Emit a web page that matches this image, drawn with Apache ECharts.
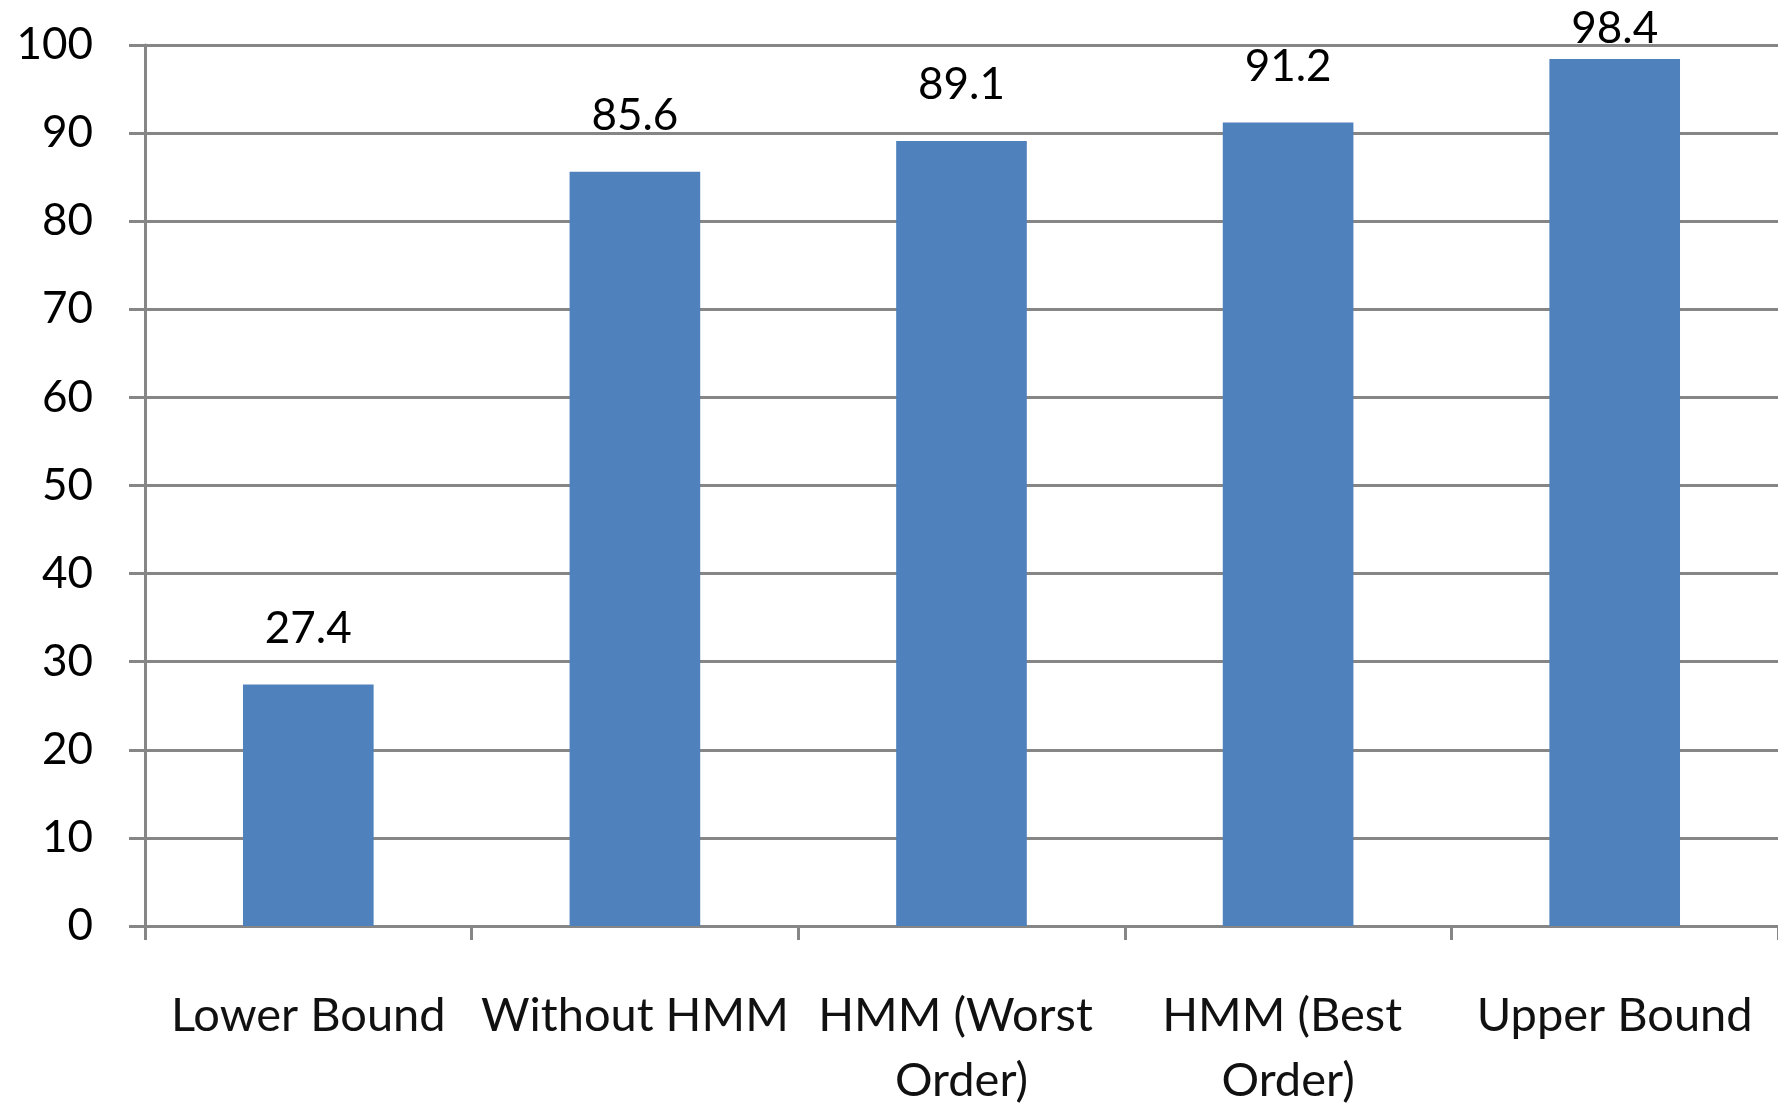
<!DOCTYPE html>
<html>
<head>
<meta charset="utf-8">
<script src="https://cdn.jsdelivr.net/npm/echarts@6/dist/echarts.min.js"></script>
<style>
  html, body { margin: 0; padding: 0; background: #ffffff; }
  #chart { width: 1778px; height: 1103px; }
</style>
</head>
<body>
<div id="chart"></div>
<script>
// Accuracy (%) for each configuration
const categories = ['Lower Bound', 'Without HMM', 'HMM (Worst Order)', 'HMM (Best Order)', 'Upper Bound'];
const accuracy = [27.4, 85.6, 89.1, 91.2, 98.4];
const yTicks = { min: 0, max: 100, interval: 10 };

const FONT = 'Lato, "Open Sans", sans-serif';
const GRID_GRAY = '#868686';

// The tallest bar's label sits closer to its bar so it stays inside the canvas
const barData = accuracy.map((v, i) => ({
  value: v,
  label: { distance: i === accuracy.length - 1 ? 8 : 34 }
}));

const chart = echarts.init(document.getElementById('chart'), null, { renderer: 'canvas' });
chart.setOption({
  backgroundColor: '#ffffff',
  animation: false,
  grid: {
    left: 145, right: 0, top: 45, bottom: 177,
    containLabel: false,
    outerBoundsMode: 'none'
  },
  xAxis: {
    type: 'category',
    data: categories,
    boundaryGap: true,
    axisLine: { show: true, lineStyle: { color: GRID_GRAY, width: 3 } },
    axisTick: { show: true, length: 14, alignWithLabel: false, lineStyle: { color: GRID_GRAY, width: 3 } },
    axisLabel: {
      interval: 0,
      margin: 57,
      color: '#111111',
      fontFamily: FONT,
      fontSize: 47,
      lineHeight: 65,
      width: 320,
      overflow: 'break',
      verticalAlign: 'top'
    }
  },
  yAxis: {
    type: 'value',
    min: yTicks.min,
    max: yTicks.max,
    interval: yTicks.interval,
    axisLine: { show: true, lineStyle: { color: GRID_GRAY, width: 3 } },
    axisTick: { show: true, length: 16, lineStyle: { color: GRID_GRAY, width: 3 } },
    splitLine: { show: true, lineStyle: { color: GRID_GRAY, width: 3 } },
    axisLabel: {
      margin: 52,
      color: '#000000',
      fontFamily: FONT,
      fontSize: 44
    }
  },
  series: [{
    type: 'bar',
    data: barData,
    barWidth: '40%',
    itemStyle: { color: '#4f81bd' },
    label: {
      show: true,
      position: 'top',
      color: '#000000',
      fontFamily: FONT,
      fontSize: 44,
      lineHeight: 44,
      formatter: p => p.value.toFixed(1)
    }
  }]
});
</script>
</body>
</html>
